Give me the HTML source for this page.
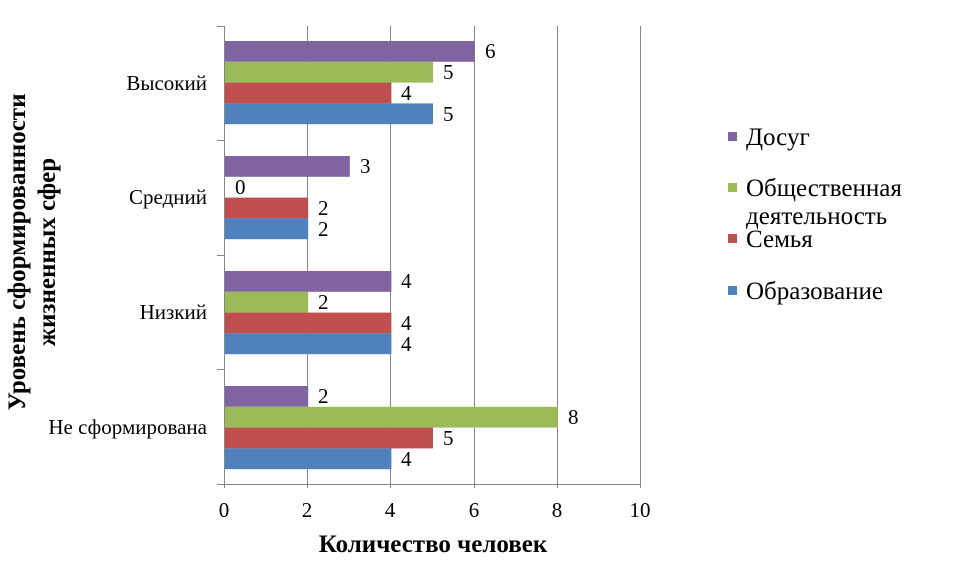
<!DOCTYPE html>
<html><head><meta charset="utf-8"><style>body{margin:0;background:#fff}svg{display:block}text{font-family:"Liberation Serif",serif;fill:#000}</style></head><body>
<svg width="962" height="564" xmlns="http://www.w3.org/2000/svg">
<g stroke="#868686" stroke-width="1">
<line x1="307.5" y1="26" x2="307.5" y2="488"/>
<line x1="390.5" y1="26" x2="390.5" y2="488"/>
<line x1="474.5" y1="26" x2="474.5" y2="488"/>
<line x1="557.5" y1="26" x2="557.5" y2="488"/>
<line x1="640.5" y1="26" x2="640.5" y2="488"/>
<line x1="224.5" y1="26" x2="224.5" y2="488"/>
<line x1="217" y1="484.5" x2="640" y2="484.5"/>
<line x1="217" y1="26.5" x2="224" y2="26.5"/>
<line x1="217" y1="140.5" x2="224" y2="140.5"/>
<line x1="217" y1="255.5" x2="224" y2="255.5"/>
<line x1="217" y1="369.5" x2="224" y2="369.5"/>
</g>
<g font-size="21">
<rect x="225" y="41" width="249.6" height="20.8" fill="#8064A2"/>
<rect x="225" y="61.8" width="208" height="20.8" fill="#9BBB59"/>
<rect x="225" y="82.6" width="166.4" height="20.8" fill="#C0504D"/>
<rect x="225" y="103.4" width="208" height="20.8" fill="#4F81BD"/>
<text x="485" y="58">6</text><text x="443" y="79">5</text><text x="401" y="100">4</text><text x="443" y="121">5</text>
<rect x="225" y="156" width="124.8" height="20.8" fill="#8064A2"/>
<rect x="225" y="197.6" width="83.2" height="20.8" fill="#C0504D"/>
<rect x="225" y="218.4" width="83.2" height="20.8" fill="#4F81BD"/>
<text x="360" y="173">3</text><text x="235" y="194">0</text><text x="318" y="215">2</text><text x="318" y="236">2</text>
<rect x="225" y="271" width="166.4" height="20.8" fill="#8064A2"/>
<rect x="225" y="291.8" width="83.2" height="20.8" fill="#9BBB59"/>
<rect x="225" y="312.6" width="166.4" height="20.8" fill="#C0504D"/>
<rect x="225" y="333.4" width="166.4" height="20.8" fill="#4F81BD"/>
<text x="401" y="288">4</text><text x="318" y="309">2</text><text x="401" y="330">4</text><text x="401" y="351">4</text>
<rect x="225" y="386" width="83.2" height="20.8" fill="#8064A2"/>
<rect x="225" y="406.8" width="332.8" height="20.8" fill="#9BBB59"/>
<rect x="225" y="427.6" width="208" height="20.8" fill="#C0504D"/>
<rect x="225" y="448.4" width="166.4" height="20.8" fill="#4F81BD"/>
<text x="318" y="403">2</text><text x="568" y="424">8</text><text x="443" y="445">5</text><text x="401" y="466">4</text>
<g text-anchor="end">
<text x="207" y="90">Высокий</text>
<text x="207" y="204">Средний</text>
<text x="207" y="319">Низкий</text>
<text x="207" y="434">Не сформирована</text>
</g>
<g text-anchor="middle">
<text x="224" y="517">0</text><text x="307" y="517">2</text><text x="390" y="517">4</text><text x="474" y="517">6</text><text x="557" y="517">8</text><text x="640" y="517">10</text>
</g>
</g>
<text x="433" y="552" font-size="25" font-weight="bold" text-anchor="middle">Количество человек</text>
<text transform="translate(25,252) rotate(-90)" font-size="25" font-weight="bold" text-anchor="middle">Уровень сформированности</text>
<text transform="translate(55,252) rotate(-90)" font-size="25" font-weight="bold" text-anchor="middle">жизненных сфер</text>
<g font-size="25">
<rect x="728" y="132" width="9" height="9" fill="#8064A2"/><text x="746" y="145">Досуг</text>
<rect x="728" y="183" width="9" height="9" fill="#9BBB59"/><text x="746" y="196">Общественная</text><text x="746" y="224">деятельность</text>
<rect x="728" y="234" width="9" height="9" fill="#C0504D"/><text x="746" y="247">Семья</text>
<rect x="728" y="286" width="9" height="9" fill="#4F81BD"/><text x="746" y="299">Образование</text>
</g>
</svg>
</body></html>
